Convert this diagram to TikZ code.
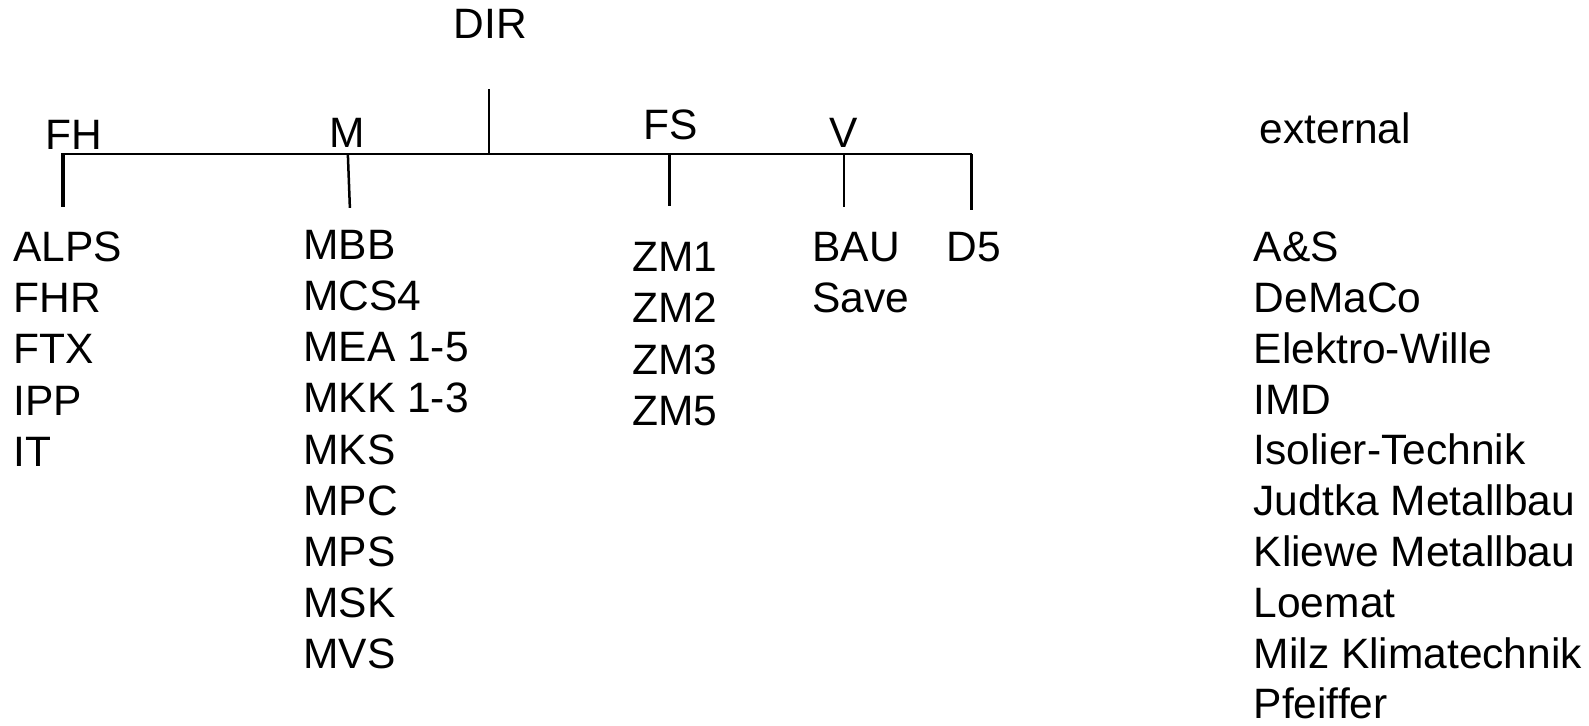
\documentclass[tikz,border=0pt]{standalone}
\usepackage{fontspec}
\setmainfont{Liberation Sans}
\begin{document}
\begin{tikzpicture}[x=1.0142pt,y=-1.0142pt,
  lbl/.style={anchor=base west, inner sep=0pt, font=\fontsize{42.5}{51}\selectfont},
  conn/.style={line width=2.5pt},
  thickconn/.style={line width=4pt}]
\useasboundingbox (0,0) rectangle (1566.8,715.8);
% heads
\node[lbl] (dir) at (447,38) {DIR};
\node[lbl] (fh) at (45,147) {FH};
\node[lbl] (m) at (325,145) {M};
\node[lbl] (fs) at (634,138) {FS};
\node[lbl, anchor=base] (v) at (832,145) {V};
\node[lbl] (ext) at (1242,141) {external};
% bus coordinates
\coordinate (dirTop) at (482,88);
\coordinate (dirBus) at (482,152);
\coordinate (busL) at (61,152);
\coordinate (busR) at (958,152);
\coordinate (fhTop) at (62,151);
\coordinate (fhEnd) at (62,204);
\coordinate (mBus) at (343,152);
\coordinate (mEnd) at (345,205);
\coordinate (fsBus) at (660,152);
\coordinate (fsEnd) at (660,203);
\coordinate (vBus) at (832,152);
\coordinate (vEnd) at (832,204);
\coordinate (dEnd) at (958,207);
\draw[conn] (dirTop) -- (dirBus);
\draw[conn] (busL) -- (busR);
\draw[thickconn] (fhTop) -- (fhEnd);
\draw[conn] (mBus) -- (mEnd);
\draw[conn] (fsBus) -- (fsEnd);
\draw[conn] (vBus) -- (vEnd);
\draw[conn] (busR) -- (dEnd);
% columns
\foreach \t [count=\i] in {ALPS,FHR,FTX,IPP,IT}
  \node[lbl] (fh\i) at (13,{258+50.4*(\i-1)}) {\t};
\foreach \t [count=\i] in {MBB,MCS4,MEA 1-5,MKK 1-3,MKS,MPC,MPS,MSK,MVS}
  \node[lbl] (m\i) at (299,{256+50.4*(\i-1)}) {\t};
\foreach \t [count=\i] in {ZM1,ZM2,ZM3,ZM5}
  \node[lbl] (fs\i) at (623,{268+50.4*(\i-1)}) {\t};
\foreach \t [count=\i] in {BAU,Save}
  \node[lbl] (v\i) at (801,{258+50.4*(\i-1)}) {\t};
\node[lbl] (d5) at (933,258) {D5};
\foreach \t [count=\i] in {A\&S,DeMaCo,Elektro-Wille,IMD,Isolier-Technik,Judtka Metallbau,Kliewe Metallbau,Loemat,Milz Klimatechnik}
  \node[lbl] (ex\i) at (1236,{258+50.1*(\i-1)}) {\t};
\node[lbl, text depth=0pt] (ex10) at (1236,{258+50.1*9}) {Pfeiffer};
\end{tikzpicture}
\end{document}
